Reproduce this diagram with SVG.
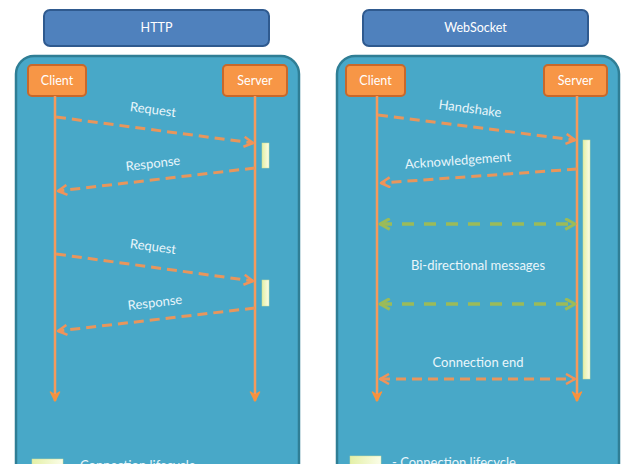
<svg xmlns="http://www.w3.org/2000/svg" width="629" height="464" viewBox="0 0 629 464">
<defs>
<linearGradient id="bar" x1="0" y1="0" x2="1" y2="0">
<stop offset="0" stop-color="#e4f0a6"/>
<stop offset="1" stop-color="#fbfde8"/>
</linearGradient>
<marker id="ao" viewBox="0 0 12 12" refX="10" refY="6" markerWidth="12" markerHeight="12" markerUnits="userSpaceOnUse" orient="auto-start-reverse">
<path d="M1,1 L10,6 L1,11" fill="none" stroke="#f0935a" stroke-width="2.5" stroke-linejoin="round"/>
</marker>
<marker id="ag" viewBox="0 0 12 12" refX="10" refY="6" markerWidth="13" markerHeight="13" markerUnits="userSpaceOnUse" orient="auto-start-reverse">
<path d="M1,1 L10,6 L1,11" fill="none" stroke="#9bbb59" stroke-width="2.8" stroke-linejoin="round"/>
</marker>
<marker id="al" viewBox="0 0 12 12" refX="10" refY="6" markerWidth="12" markerHeight="12" markerUnits="userSpaceOnUse" orient="auto">
<path d="M1,1.5 L10,6 L1,10.5 L4,6 Z" fill="#f7923f" stroke="#f7923f" stroke-width="1.5" stroke-linejoin="round"/>
</marker>
<style>
.hdr{fill:#4f81bd;stroke:#2f5a8f;stroke-width:2}
.panel{fill:#48a8c8;stroke:#2f7e95;stroke-width:2.5}
.actor{fill:#f79646;stroke:#c8682a;stroke-width:2}
.t{font-family:Lato,"Open Sans","Liberation Sans",sans-serif;font-size:12.5px;fill:#ffffff;text-anchor:middle}
.lbl{font-family:Lato,"Open Sans","Liberation Sans",sans-serif;font-size:13px;fill:#eaf6fb;text-anchor:middle}
.life{stroke:#f59a5c;stroke-width:2.5;fill:none}
.msg{stroke:#e8965c;stroke-width:3;stroke-dasharray:10 6;fill:none}
.bi{stroke:#9bbb59;stroke-width:3.5;stroke-dasharray:12 10;fill:none}
.bar{fill:url(#bar);stroke:#d0e09a;stroke-width:0.5}
</style>
</defs>
<rect width="629" height="464" fill="#ffffff"/>

<g id="http-header"><rect class="hdr" x="44" y="10" width="225" height="36" rx="6"/><text class="t" x="156.5" y="32">HTTP</text></g>
<g id="ws-header"><rect class="hdr" x="363" y="10" width="225" height="36" rx="6"/><text class="t" x="475.5" y="32">WebSocket</text></g>

<g id="http-panel"><rect class="panel" x="16" y="56" width="283" height="440" rx="18"/></g>
<g id="ws-panel"><rect class="panel" x="337" y="56" width="282" height="440" rx="18"/></g>

<g id="http-client"><rect class="actor" x="28" y="65" width="58" height="31" rx="4"/><text class="t" x="57" y="85">Client</text></g>
<g id="http-server"><rect class="actor" x="223" y="65" width="64" height="31" rx="4"/><text class="t" x="255" y="85">Server</text></g>
<g id="ws-client"><rect class="actor" x="346" y="65" width="59" height="31" rx="4"/><text class="t" x="375.5" y="85">Client</text></g>
<g id="ws-server"><rect class="actor" x="544" y="65" width="63" height="31" rx="4"/><text class="t" x="575.5" y="85">Server</text></g>

<g id="http-bar1"><rect class="bar" x="262" y="143" width="7" height="25"/></g>
<g id="http-bar2"><rect class="bar" x="262" y="280" width="7" height="26"/></g>
<g id="ws-bar"><rect class="bar" x="583" y="140" width="7" height="239"/></g>

<g id="connectors">
<line class="life" x1="55" y1="96" x2="55" y2="401" marker-end="url(#al)"/>
<line class="life" x1="255" y1="96" x2="255" y2="401" marker-end="url(#al)"/>
<line class="life" x1="377" y1="96" x2="377" y2="401" marker-end="url(#al)"/>
<line class="life" x1="577" y1="96" x2="577" y2="401" marker-end="url(#al)"/>

<line class="msg" x1="56" y1="117" x2="253" y2="143" marker-end="url(#ao)"/>
<line class="msg" x1="255" y1="168" x2="58" y2="191" marker-end="url(#ao)"/>
<line class="msg" x1="56" y1="254" x2="253" y2="281" marker-end="url(#ao)"/>
<line class="msg" x1="255" y1="308" x2="58" y2="331" marker-end="url(#ao)"/>

<line class="msg" x1="378" y1="115" x2="575" y2="140" marker-end="url(#ao)"/>
<line class="msg" x1="577" y1="169" x2="381" y2="183" marker-end="url(#ao)"/>
<line class="bi" x1="380" y1="224" x2="575" y2="224" marker-start="url(#ag)" marker-end="url(#ag)"/>
<line class="bi" x1="380" y1="304" x2="575" y2="304" marker-start="url(#ag)" marker-end="url(#ag)"/>
<line class="msg" x1="380" y1="379" x2="575" y2="379" marker-start="url(#ao)" marker-end="url(#ao)"/>
</g>

<g id="labels">
<text class="lbl" x="153" y="114" transform="rotate(7.5 153 110)">Request</text>
<text class="lbl" x="153" y="168" transform="rotate(-6.6 153 164)">Response</text>
<text class="lbl" x="153" y="251" transform="rotate(7.5 153 247)">Request</text>
<text class="lbl" x="155" y="307" transform="rotate(-6.6 155 303)">Response</text>
<text class="lbl" x="470" y="113" transform="rotate(7.5 470 109)">Handshake</text>
<text class="lbl" x="458" y="165" transform="rotate(-4 458 161)">Acknowledgement</text>
<text class="lbl" x="478" y="270">Bi-directional messages</text>
<text class="lbl" x="478" y="367">Connection end</text>
</g>

<g id="http-legend"><rect class="bar" x="32" y="459" width="31" height="12"/><text class="lbl" x="80" y="470" style="text-anchor:start">Connection lifecycle</text></g>
<g id="ws-legend"><rect class="bar" x="350" y="456" width="31" height="12"/><text class="lbl" x="392" y="467" style="text-anchor:start">- Connection lifecycle</text></g>
</svg>
